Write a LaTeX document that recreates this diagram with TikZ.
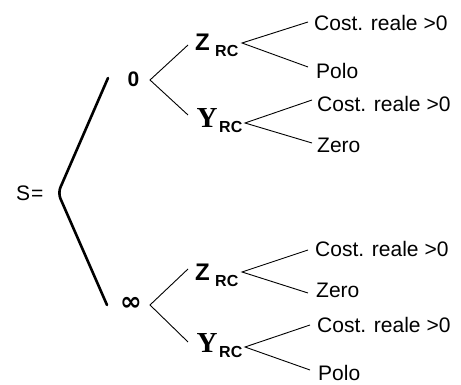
\documentclass[tikz,border=0pt]{standalone}
\usepackage{fontspec}
\setmainfont{Liberation Sans}
\newfontfamily\serifface{Liberation Serif}
\newfontfamily\dejavuface{DejaVu Sans}
\begin{document}
\begin{tikzpicture}[x=1pt,y=1pt,
  leaf/.style={anchor=base west, inner sep=0pt, font=\fontsize{21}{21}\selectfont},
  zlabel/.style={anchor=base west, inner sep=0pt, font=\fontsize{24}{24}\selectfont\bfseries},
  ylabel/.style={anchor=base west, inner sep=0pt, font=\fontsize{29}{29}\selectfont\serifface\bfseries},
  sub/.style={anchor=base west, inner sep=0pt, font=\fontsize{16}{16}\selectfont\bfseries},
  branch/.style={line width=0.9pt},
  bracestyle/.style={line width=2.6pt, rounded corners=6pt, line cap=round}
]
\useasboundingbox (0,0) rectangle (461,385);

% left side
\node[anchor=base west, inner sep=0pt, font=\fontsize{21}{21}\selectfont] (s) at (16,184) {S\kern1pt=};
\coordinate (bt) at (108,307);
\coordinate (bm) at (58,192);
\coordinate (bb) at (107,80);
\draw[bracestyle] (bt) -- (bm) -- (bb);

% zero / infinity
\node[anchor=base west, inner sep=0pt, font=\fontsize{21}{21}\selectfont\bfseries] (zero) at (127.5,298) {0};
\node[inner sep=0pt, font=\fontsize{26}{26}\selectfont\dejavuface\bfseries] (inf) at (131,81) {∞};

% top group
\coordinate (a0) at (150,305);
\coordinate (a0z) at (188,340);
\coordinate (a0y) at (188,270);
\draw[branch] (a0z) -- (a0) -- (a0y);

\node[zlabel] (z1) at (195,334) {Z};
\node[sub] (z1s) at (215,328) {RC};
\node[ylabel] (y1) at (196.5,257) {Y};
\node[sub] (y1s) at (219,252) {RC};

\coordinate (za) at (242,342);
\coordinate (zat) at (308,363);
\coordinate (zab) at (308,318);
\draw[branch] (zat) -- (za) -- (zab);
\node[leaf] (c1) at (314,354) {Cost. reale >0};
\node[leaf] (p1) at (316,306) {Polo};

\coordinate (ya) at (245,262);
\coordinate (yat) at (312,285);
\coordinate (yab) at (312,242);
\draw[branch] (yat) -- (ya) -- (yab);
\node[leaf] (c2) at (317,273) {Cost. reale >0};
\node[leaf] (e1) at (317,232) {Zero};

% bottom group
\coordinate (a1) at (150,80);
\coordinate (a1z) at (188,116);
\coordinate (a1y) at (188,43);
\draw[branch] (a1z) -- (a1) -- (a1y);

\node[zlabel] (z2) at (195,104) {Z};
\node[sub] (z2s) at (215,98) {RC};
\node[ylabel] (y2) at (196.5,32) {Y};
\node[sub] (y2s) at (219,27) {RC};

\coordinate (zb) at (242,113);
\coordinate (zbt) at (308,135);
\coordinate (zbb) at (308,92);
\draw[branch] (zbt) -- (zb) -- (zbb);
\node[leaf] (c3) at (315,128) {Cost. reale >0};
\node[leaf] (e2) at (316,87) {Zero};

\coordinate (yb) at (245,38);
\coordinate (ybt) at (310,60);
\coordinate (ybb) at (310,15);
\draw[branch] (ybt) -- (yb) -- (ybb);
\node[leaf] (c4) at (317,52) {Cost. reale >0};
\node[leaf] (p2) at (318,4) {Polo};
\end{tikzpicture}
\end{document}
